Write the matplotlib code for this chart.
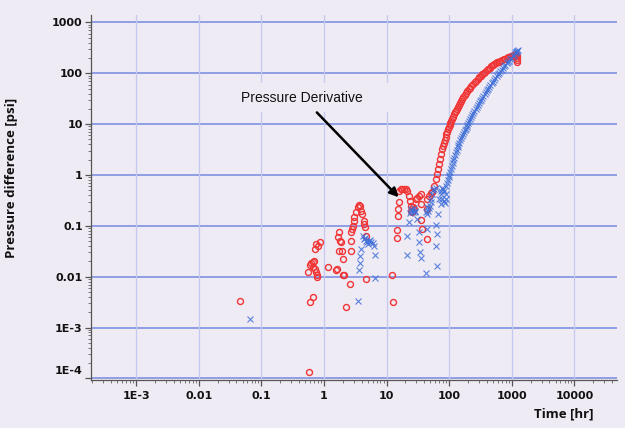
import matplotlib
matplotlib.use("Agg")
import matplotlib.pyplot as plt
from matplotlib.patches import Rectangle
from matplotlib.transforms import ScaledTranslation

# Pressure derivative (hollow red circles): time [hr], value [psi]
deriv_t = [0.045, 0.58, 0.60, 0.66, 0.55, 0.59, 0.62, 0.66, 0.70, 0.66, 0.72, 0.75, 0.77, 0.78,
           0.72, 0.75, 0.79, 0.87, 1.15, 1.55, 1.61, 1.69, 1.75, 1.82, 1.86, 1.75, 1.91, 1.98,
           2.00, 2.06, 2.24, 2.59, 2.69, 2.69, 2.69, 2.76, 2.86, 2.97, 3.04, 3.23, 3.44, 3.65,
           3.79, 3.88, 4.03, 4.29, 4.38, 4.55, 4.78, 4.78,
           12.4, 12.7, 14.6, 14.6, 15.0, 15.5, 15.8, 15.8, 16.8, 17.9, 19.0, 20.2, 21.5, 22.9,
           23.7, 24.3, 24.9, 25.8, 26.5, 27.4, 29.2, 31.0, 32.9, 34.9, 34.9, 36.0, 37.3, 43.6,
           44.8, 44.8, 47.6,
           50.5, 53.8, 57, 60.8, 63, 66, 69, 71.4, 75, 78, 80, 82.6, 85, 87.6, 90,
           93, 96, 99, 102, 105, 108, 112, 116, 120, 124, 128, 132, 137, 142, 147, 154, 161,
           168, 176, 185, 194, 204, 215, 227, 240, 255, 270, 285, 300, 318, 335, 355, 375, 397,
           420, 445, 470, 497, 525, 557, 590, 625, 660, 700, 740, 785, 830, 875, 920, 960, 1000,
           1040, 1080, 1115, 1150, 1180, 1200, 1230, 1220, 1210]
deriv_p = [0.0033, 0.000133, 0.0032, 0.0040, 0.0123, 0.0173, 0.0187, 0.0194, 0.0207, 0.0156,
           0.0143, 0.0123, 0.0100, 0.0110, 0.035, 0.044, 0.040, 0.0475, 0.0155, 0.0137, 0.0143,
           0.060, 0.0766, 0.051, 0.049, 0.032, 0.032, 0.0225, 0.0106, 0.0106, 0.0025, 0.0073,
           0.032, 0.050, 0.075, 0.087, 0.100, 0.122, 0.147, 0.184, 0.230, 0.255, 0.241, 0.197,
           0.170, 0.126, 0.109, 0.094, 0.064, 0.0091,
           0.0106, 0.0032, 0.058, 0.084, 0.158, 0.212, 0.288, 0.486, 0.525, 0.53, 0.52, 0.525,
           0.49, 0.388, 0.31, 0.247, 0.198, 0.184, 0.24, 0.212, 0.33, 0.36, 0.39, 0.42, 0.267,
           0.13, 0.086, 0.21, 0.055, 0.334, 0.388,
           0.44, 0.465, 0.61, 0.82, 1.03, 1.29, 1.62, 2.03, 2.54, 3.2, 3.7, 4.3, 4.9, 5.6, 6.3,
           7.1, 7.9, 8.8, 9.7, 10.6, 11.6, 12.8, 14.1, 15.5, 17.0, 18.5, 20.0, 22, 24, 26, 28.5,
           31, 34, 37, 40.5, 44, 48, 52, 56.5, 61, 66.5, 72, 77.5, 83, 89, 95, 101, 108, 115,
           122, 129, 136, 143, 150, 157, 163, 169, 175, 182, 188, 194, 200, 205, 210, 215, 219,
           223, 226, 229, 232, 236, 215, 200, 185, 168]

# Pressure difference (blue crosses): time [hr], value [psi]
delta_t = [0.067, 3.52, 3.65, 3.79, 3.79, 3.88, 4.14, 4.38, 4.66, 4.96, 5.27, 5.6, 5.97, 6.3,
           4.5, 5.1, 5.4, 6.48, 6.56,
           21.1, 21.5, 22.9, 24.0, 24.6, 25.0, 26.0, 27.0, 28.0, 29.0, 31.0, 33.0, 32.9, 34.2,
           34.9, 41.9, 44.8, 42.0, 44.5, 44.8, 46.0, 48.0, 50.0, 50.5, 52.0, 53.8, 55.0, 57.0,
           60.8, 64.6, 60.8, 64.6, 60.8, 66.0, 68.6, 73.0, 73.2, 74.0, 78.0, 78.0, 79.0, 82.6,
           83.0, 85.0, 87.6, 88.0, 89.0,
           93, 95.5, 98, 101, 104, 107, 110, 113.5, 117, 120.5, 124, 128, 132, 136.5, 141,
           145.5, 150, 155, 160, 165.5, 171, 177, 183, 189.5, 196, 203, 210, 218, 226, 235, 244,
           254, 264, 275, 286, 298, 310, 323, 337, 352, 367, 383, 400, 418, 437, 457, 478, 500,
           523, 548, 573, 600, 628, 658, 688, 720, 754, 790, 826, 865, 905, 947, 990, 1035,
           1080, 1115, 1150, 1180, 1210, 1230, 1250]
delta_p = [0.0015, 0.0034, 0.0133, 0.0184, 0.025, 0.035, 0.064, 0.055, 0.051, 0.049, 0.051,
           0.048, 0.046, 0.041, 0.058, 0.044, 0.053, 0.027, 0.0094,
           0.027, 0.064, 0.117, 0.18, 0.21, 0.2, 0.19, 0.22, 0.2, 0.19, 0.136, 0.074, 0.048,
           0.030, 0.023, 0.0118, 0.086, 0.184, 0.17, 0.23, 0.2, 0.22, 0.25, 0.334, 0.3, 0.418,
           0.5, 0.525, 0.041, 0.069, 0.103, 0.0165, 0.567, 0.17, 0.33, 0.267, 0.42, 0.49, 0.567,
           0.334, 0.53, 0.486, 0.31, 0.28, 0.42, 0.34, 0.61,
           0.7, 0.8, 0.9, 1.02, 1.15, 1.32, 1.5, 1.72, 1.95, 2.2, 2.5, 2.8, 3.1, 3.5, 3.9,
           4.35, 4.8, 5.3, 5.8, 6.35, 6.9, 7.5, 8.2, 8.9, 9.7, 10.6, 11.5, 12.6, 13.8, 15.1,
           16.5, 18.1, 19.8, 21.7, 23.6, 25.7, 28, 30.5, 33, 36, 39, 42.5, 46, 50, 54, 58.5, 63,
           68.5, 74, 81, 88, 95, 102, 110, 118, 127, 136, 146, 156, 167, 178, 190, 203, 217,
           232, 245, 258, 267, 275, 280, 285]

x_ticks = [1e-3, 1e-2, 1e-1, 1, 10, 100, 1000, 10000]
x_labels = ["1E-3", "0.01", "0.1", "1", "10", "100", "1000", "10000"]
y_ticks = [1e-4, 1e-3, 1e-2, 1e-1, 1, 10, 100, 1000]
y_labels = ["1E-4", "1E-3", "0.01", "0.1", "1", "10", "100", "1000"]

bg = "#efebf4"
red = "#f03535"
blue = "#3f6fd8"

fig = plt.figure(figsize=(6.25, 4.28), dpi=100, facecolor=bg)
ax = fig.add_axes([91 / 625, 48 / 428, 526 / 625, 365 / 428], facecolor=bg)
ax.set_xscale("log")
ax.set_yscale("log")
ax.set_xlim(1.9e-4, 4.8e4)
ax.set_ylim(0.93e-4, 1400)

# gridlines: strong horizontal decades, faint vertical decades
for yv in y_ticks:
    ax.axhline(yv, color="#7f91e2", lw=1.2, zorder=0.5)
for xv in x_ticks:
    ax.axvline(xv, color="#c6c9ef", lw=0.9, zorder=0.5)

# plain panel behind the annotation text
ax.add_patch(Rectangle((0.288, 0.733), 0.30, 0.082, transform=ax.transAxes,
                       facecolor=bg, edgecolor="none", zorder=0.8))

ax.plot(deriv_t, deriv_p, linestyle="none", marker="o", ms=4.3, mfc="none",
        mec=red, mew=1.0, zorder=3)
ax.plot(delta_t, delta_p, linestyle="none", marker="x", ms=4.0, color=blue,
        mew=0.8, alpha=0.85, zorder=3)

ax.annotate("", xy=(15.6, 0.365), xytext=(0.77, 17),
            arrowprops=dict(arrowstyle="-|>", color="black", lw=1.8, mutation_scale=13,
                            shrinkA=0, shrinkB=0), zorder=4)
ax.text(0.45, 32, "Pressure Derivative", ha="center", va="center", fontsize=10,
        family=["Liberation Sans Narrow", "Liberation Sans"], color="#111111", zorder=4)

tick_font = dict(family="DejaVu Sans", weight="bold", size=8)
ax.set_xticks(x_ticks)
ax.set_xticklabels(x_labels, **tick_font)
ax.set_yticks(y_ticks)
ax.set_yticklabels(y_labels, **tick_font)
ax.xaxis.set_minor_locator(matplotlib.ticker.LogLocator(base=10, subs=range(2, 10), numticks=20))
ax.yaxis.set_minor_locator(matplotlib.ticker.LogLocator(base=10, subs=range(2, 10), numticks=20))
ax.xaxis.set_minor_formatter(matplotlib.ticker.NullFormatter())
ax.yaxis.set_minor_formatter(matplotlib.ticker.NullFormatter())
ax.tick_params(which="major", length=4, width=0.9, color="#555555", labelcolor="#111111")
ax.tick_params(axis="y", which="major", pad=2)
ax.tick_params(axis="x", which="major", pad=4)
ax.tick_params(which="minor", length=2, width=0.7, color="#777777")

# lift the lowest y label off the bottom spine
lbl = ax.yaxis.get_major_ticks()[0].label1
lbl.set_transform(lbl.get_transform() + ScaledTranslation(0, 6 / 72, fig.dpi_scale_trans))

for side in ("top", "right"):
    ax.spines[side].set_visible(False)
for side in ("left", "bottom"):
    ax.spines[side].set_color("#555555")
    ax.spines[side].set_linewidth(0.9)

ax.set_ylabel("Pressure difference [psi]", family="Open Sans", weight="bold", size=9.5,
              color="#111111")
ax.yaxis.set_label_coords(-0.139, 0.553)
ax.set_xlabel("Time [hr]", family="Open Sans", weight="bold", size=9.5, ha="right",
              color="#111111")
ax.xaxis.set_label_coords(0.955, -0.075)

fig.savefig("out.png", dpi=100, facecolor=bg)
